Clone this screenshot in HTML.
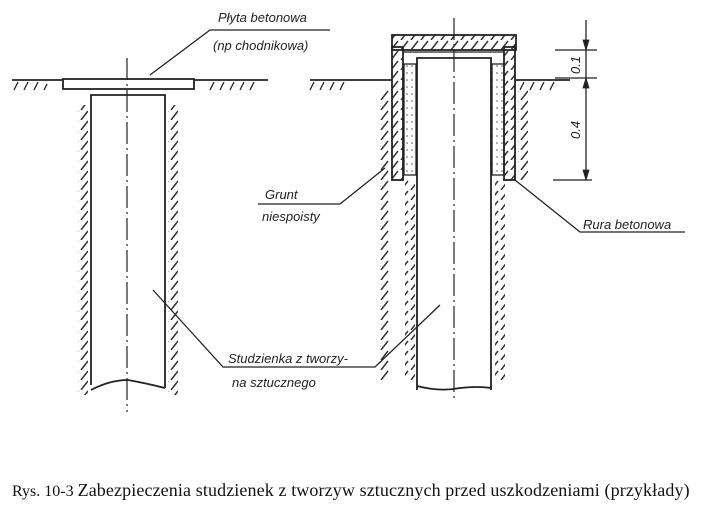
<!DOCTYPE html>
<html><head><meta charset="utf-8"><style>
html,body{margin:0;padding:0;background:#fff;}
svg{display:block;}
.h{font-family:"Liberation Sans",sans-serif;font-style:italic;font-size:13px;fill:#222;}
</style></head><body>
<svg width="703" height="512" viewBox="0 0 703 512" xmlns="http://www.w3.org/2000/svg">
<defs>
<pattern id="hat" width="10" height="10" patternUnits="userSpaceOnUse">
<path d="M1,10 L8,1" stroke="#333" stroke-width="1.5"/>
</pattern>
<pattern id="dot" width="5" height="7" patternUnits="userSpaceOnUse">
<circle cx="2" cy="3" r="0.8" fill="#555"/>
</pattern>
</defs>
<g stroke="#222" stroke-width="1.8" fill="none">
<line x1="12" y1="80" x2="268" y2="80"/>
<g stroke-width="1.3">
<path d="M14,90 l4,-8 M24,90 l4,-8 M34,90 l4,-8 M44,90 l3,-6 M210,90 l4,-8 M220,90 l4,-8 M230,90 l4,-8 M240,90 l4,-8 M250,90 l4,-8"/>
<path d="M310,90 l4,-8 M320,90 l4,-8 M330,90 l4,-8 M340,90 l4,-8"/>
</g>
<rect x="63" y="79" width="131" height="10" fill="#fff"/>
<path d="M91,385 L91,95 L165,95 L165,388"/>
<path d="M91,390 Q110,380 128,380 Q145,383 165,388"/>
<rect x="78" y="105" width="10" height="290" fill="url(#hat)" stroke="none"/>
<rect x="168" y="105" width="10" height="290" fill="url(#hat)" stroke="none"/>
<line x1="127" y1="58" x2="127" y2="412" stroke-width="1.2" stroke-dasharray="22,4,2,4"/>
<path d="M150,75 L210,30 L330,30" stroke-width="1.3"/>
<line x1="310" y1="80" x2="392" y2="80"/>
<line x1="515" y1="80" x2="570" y2="80"/>
<path d="M520,90 l4,-8 M530,90 l4,-8 M540,90 l4,-8 M550,90 l4,-8" stroke-width="1.3"/>
<rect x="392" y="35" width="124" height="15" fill="url(#hat)"/>
<rect x="392" y="47" width="11" height="133" fill="url(#hat)"/>
<rect x="504" y="47" width="11" height="133" fill="url(#hat)"/>
<rect x="404" y="64" width="12" height="111" fill="url(#dot)" stroke-width="1.3"/>
<rect x="492" y="64" width="12" height="111" fill="url(#dot)" stroke-width="1.3"/>
<line x1="403" y1="52" x2="504" y2="52" stroke-width="1.3"/>
<path d="M417,390 L417,58 L491,58 L491,390"/>
<path d="M417,386 Q440,392 460,388 Q478,386 491,388"/>
<rect x="380" y="90" width="10" height="290" fill="url(#hat)" stroke="none"/>
<rect x="405" y="180" width="10" height="200" fill="url(#hat)" stroke="none"/>
<rect x="495" y="180" width="10" height="200" fill="url(#hat)" stroke="none"/>
<rect x="518" y="90" width="10" height="90" fill="url(#hat)" stroke="none"/>
<line x1="454" y1="18" x2="454" y2="400" stroke-width="1.2" stroke-dasharray="22,4,2,4"/>
<g stroke-width="1.3">
<line x1="586" y1="20" x2="586" y2="180"/>
<line x1="555" y1="50" x2="597" y2="50"/>
<line x1="555" y1="78" x2="597" y2="78"/>
<line x1="553" y1="180" x2="592" y2="180"/>
</g>
<path d="M583,40 L586,50 L589,40 Z M583,88 L586,78 L589,88 Z M583,170 L586,180 L589,170 Z" fill="#222" stroke-width="0.8"/>
<path d="M258,204 L340,204 L385,168" stroke-width="1.3"/>
<path d="M515,180 L580,232 L685,232" stroke-width="1.3"/>
<path d="M153,290 L223,367 L375,367 L440,305" stroke-width="1.3"/>
</g>
<text class="h" x="218" y="22">Płyta betonowa</text>
<text class="h" x="213" y="50">(np chodnikowa)</text>
<text class="h" x="265" y="199">Grunt</text>
<text class="h" x="262" y="221">niespoisty</text>
<text class="h" x="583" y="229">Rura betonowa</text>
<text class="h" x="228" y="363">Studzienka z tworzy-</text>
<text class="h" x="232" y="387">na sztucznego</text>
<text class="h" transform="translate(580,65) rotate(-90)" text-anchor="middle">0.1</text>
<text class="h" transform="translate(580,130) rotate(-90)" text-anchor="middle">0.4</text>
<text x="12" y="496" font-family="Liberation Serif,serif" font-size="16" fill="#111">Rys. 10-3 <tspan font-size="18" textLength="612">Zabezpieczenia studzienek z tworzyw sztucznych przed uszkodzeniami (przykłady)</tspan></text>
</svg>
</body></html>
